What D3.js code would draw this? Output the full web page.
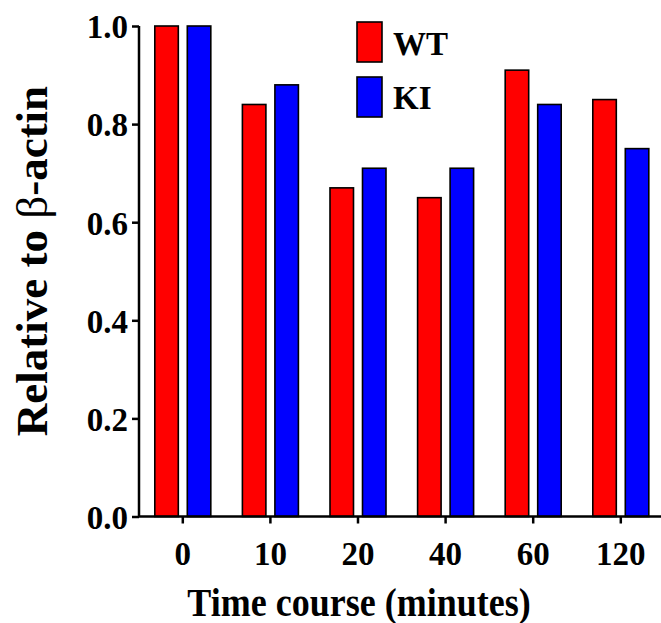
<!DOCTYPE html>
<html>
<head>
<meta charset="utf-8">
<script src="https://cdn.jsdelivr.net/npm/d3@7"></script>
<style>
  body { margin: 0; background: #fff; }
</style>
</head>
<body>
<svg id="chart"></svg>
<script>
/* données */
const timePoints = ['0', '10', '20', '40', '60', '120']
const seriesNames = ['WT', 'KI']
const wtValues = [1.0, 0.84, 0.67, 0.65, 0.91, 0.85]
const kiValues = [1.0, 0.88, 0.71, 0.71, 0.84, 0.75]
const yTicks = [0.0, 0.2, 0.4, 0.6, 0.8, 1.0]
const seriesColors = ['#ff0000', '#0000ff']

const fontSerif = '"Liberation Serif", "Times New Roman", Times, serif'

const width = 661, height = 623
const margin = {top: 26, right: -3.6, bottom: 106.5, left: 139}

const svg = d3.select('#chart').attr('width', width).attr('height', height)

const rows = timePoints.map((t, i) => ({t: t, values: [wtValues[i], kiValues[i]]}))

const xScale = d3.scaleBand()
  .domain(timePoints)
  .range([margin.left, width - margin.right])
  .paddingInner(0)
  .paddingOuter(0)

const xInner = d3.scaleBand()
  .domain(seriesNames)
  .range([0, xScale.bandwidth()])
  .paddingInner(0.277)
  .paddingOuter(0.486)

const yScale = d3.scaleLinear()
  .domain([0, 1])
  .range([height - margin.bottom, margin.top])

/* barres */
const groups = svg.selectAll('g.group')
  .data(rows)
  .enter()
  .append('g')
  .attr('class', 'group')
  .attr('transform', d => 'translate(' + xScale(d.t) + ',0)')

groups.selectAll('rect')
  .data(d => d.values.map((v, i) => ({name: seriesNames[i], value: v, color: seriesColors[i]})))
  .enter()
  .append('rect')
  .attr('x', d => xInner(d.name))
  .attr('y', d => yScale(d.value))
  .attr('width', xInner.bandwidth())
  .attr('height', d => yScale(0) - yScale(d.value))
  .attr('fill', d => d.color)
  .attr('stroke', '#000')
  .attr('stroke-width', 1.6)

/* axes */
const yAxis = d3.axisLeft(yScale)
  .tickValues(yTicks)
  .tickFormat(d3.format('.1f'))
  .tickSize(7)
  .tickPadding(4)

const gy = svg.append('g')
  .attr('transform', 'translate(' + margin.left + ',0)')
  .call(yAxis)
gy.attr('font-family', null).attr('font-size', null)
gy.select('.domain').attr('d', 'M0,' + yScale(1) + 'V' + yScale(0))
gy.selectAll('path, line').attr('stroke', '#000').attr('stroke-width', 2.5)
gy.selectAll('text').attr('dy', '0.36em')

const xAxis = d3.axisBottom(xScale)
  .tickSize(7)
  .tickPadding(18.5)

const gx = svg.append('g')
  .attr('transform', 'translate(0,' + yScale(0) + ')')
  .call(xAxis)
gx.attr('font-family', null).attr('font-size', null)
gx.select('.domain').attr('d', 'M' + (margin.left - 1) + ',0H' + (width - margin.right))
gx.selectAll('path, line').attr('stroke', '#000').attr('stroke-width', 2.5)

/* titres des axes */
svg.append('text')
  .attr('class', 'xlbl')
  .attr('transform', 'translate(359,616) scale(1,1.12)')
  .attr('text-anchor', 'middle')
  .text('Time course (minutes)')

const ylbl = svg.append('text')
  .attr('class', 'ylbl')
  .attr('transform', 'translate(47,261) rotate(-90)')
  .attr('text-anchor', 'middle')
ylbl.append('tspan').text('Relative to ')
ylbl.append('tspan').attr('class', 'beta').text('β')
ylbl.append('tspan').text('-actin')

/* légende */
const legend = svg.append('g').attr('transform', 'translate(357,22)')
seriesNames.forEach((name, i) => {
  legend.append('rect')
    .attr('x', 0)
    .attr('y', i * 55)
    .attr('width', 25)
    .attr('height', 40)
    .attr('fill', seriesColors[i])
    .attr('stroke', '#000')
    .attr('stroke-width', 1.6)
  legend.append('text')
    .attr('x', 36)
    .attr('y', i * 54 + 33)
    .text(name)
})

/* police commune */
svg.selectAll('text')
  .style('font-family', fontSerif)
  .style('font-weight', 'bold')
  .style('font-size', '33px')
  .style('fill', '#000')
svg.selectAll('text.xlbl').style('font-size', '36px')
svg.selectAll('text.ylbl').style('font-size', '45px')
svg.selectAll('tspan.beta').style('font-weight', 'normal')
</script>
</body>
</html>
